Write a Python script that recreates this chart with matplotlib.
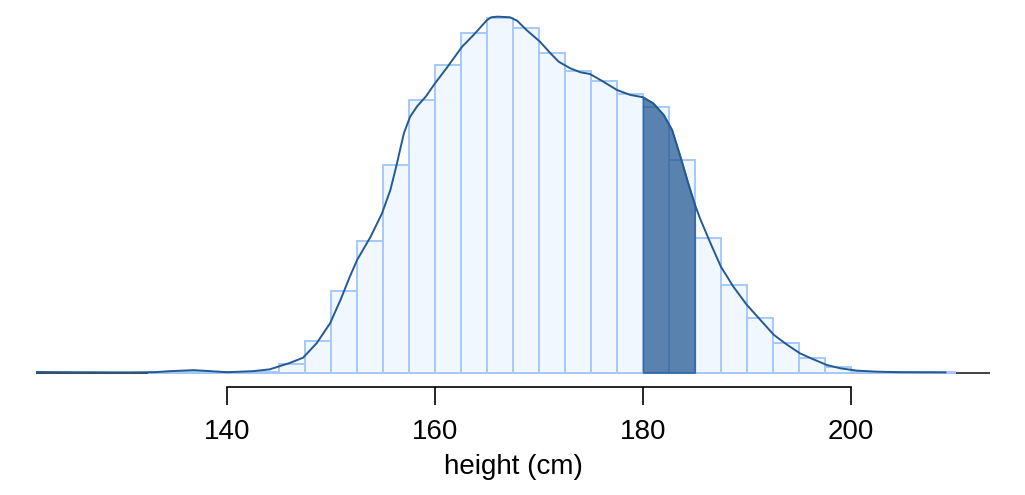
import numpy as np
import matplotlib
matplotlib.use('Agg')
import matplotlib.pyplot as plt

plt.rcParams['font.family'] = ['Liberation Sans', 'DejaVu Sans']

# histogram, bin width 2.5 cm (density)
bin_left = [132.5, 135, 137.5, 140, 142.5, 145, 147.5, 150, 152.5, 155,
            157.5, 160, 162.5, 165, 167.5, 170, 172.5, 175, 177.5, 180,
            182.5, 185, 187.5, 190, 192.5, 195, 197.5, 200, 202.5, 205, 207.5]
bin_density = [0.00005, 0.0001, 0.00005, 0.00003, 0.0001, 0.0009, 0.0031,
               0.0080, 0.0129, 0.0204, 0.0267, 0.0302, 0.0333, 0.0348,
               0.0338, 0.0313, 0.0296, 0.0286, 0.0273, 0.0261, 0.0209,
               0.0132, 0.0086, 0.0054, 0.0029, 0.0014, 0.0006, 0.0001,
               0.00003, 0.00002, 0.00003]
bin_width = 2.5

# smoothed density curve
kde_x = [121.6, 125, 130, 133, 134.5, 136.8, 138.4, 140, 142.5, 144.1,
         144.9, 146.1, 147.3, 148.6, 149.9, 150.9, 151.8, 152.5, 153.8,
         154.9, 155.7, 156.3, 157.0, 157.6, 158.3, 159.1, 160.0, 161.1,
         162.6, 163.7, 165.0, 165.4, 166.0, 167.2, 167.9, 168.8, 170.1,
         171.1, 171.9, 173.0, 174.0, 174.9, 176.2, 177.5, 178.8, 180.0,
         181.0, 182.0, 182.8, 183.6, 184.4, 185.0, 185.5, 186.5, 187.5,
         188.7, 190.0, 191.3, 192.6, 193.9, 195.1, 196.4, 197.7, 199.0,
         200.6, 202.5, 204.8, 209.1]
kde_y = [0.00007, 0.00005, 0.00003, 0.00005, 0.00015, 0.00025, 0.00015,
         0.00005, 0.00015, 0.00033, 0.00059, 0.00098, 0.00147, 0.00288,
         0.00484, 0.00713, 0.00941, 0.01105, 0.01333, 0.01563, 0.01791,
         0.02036, 0.02347, 0.02510, 0.02615, 0.02706, 0.02838, 0.02985,
         0.03196, 0.03311, 0.03458, 0.03485, 0.03491, 0.03485, 0.03451,
         0.03360, 0.03245, 0.03132, 0.03049, 0.02985, 0.02945, 0.02929,
         0.02853, 0.02772, 0.02723, 0.02701, 0.02641, 0.02527, 0.02380,
         0.02118, 0.01840, 0.01647, 0.01510, 0.01269, 0.01039, 0.00843,
         0.00664, 0.00517, 0.00370, 0.00272, 0.00190, 0.00131, 0.00075,
         0.00043, 0.00020, 0.00010, 0.00005, 0.00003]

shade_lo, shade_hi = 180, 185
ticks = [140, 160, 180, 200]

line_col = '#235a92'

fig = plt.figure(figsize=(10.25, 4.95), dpi=100)
ax = fig.add_axes([0.035, 1 - 380 / 495, 0.931, 380 / 495])

ax.axhline(0, color='#222222', lw=1.2, zorder=0.5)
ax.bar(bin_left, bin_density, width=bin_width, align='edge',
       facecolor='#f0f7ff', edgecolor='#a6c9fb', lw=1.4, zorder=1)

kx = np.array(kde_x)
ky = np.array(kde_y)
m = (kx >= shade_lo) & (kx <= shade_hi)
ax.fill_between(kx[m], 0, ky[m], facecolor='#1f5591', alpha=0.72,
                edgecolor='#1f5591', lw=1.0, zorder=2)
ax.plot(kx, ky, color=line_col, lw=1.4, zorder=3)

scale = 9.805e-5
ax.set_xlim(121.6, 213.4)
ax.set_ylim(-7.3 * scale, 372.7 * scale)

for s in ['left', 'right', 'top']:
    ax.spines[s].set_visible(False)
ax.spines['bottom'].set_position(('outward', 4.8))
ax.spines['bottom'].set_bounds(140, 200)
ax.spines['bottom'].set_linewidth(1.2)
ax.set_yticks([])
ax.set_xticks(ticks)
ax.set_xticklabels([str(t) for t in ticks])
ax.tick_params(axis='x', length=13, width=1.2, pad=10.5, labelsize=20)
ax.set_xlabel('height (cm)', fontsize=20, labelpad=6)

fig.savefig('out.png', dpi=100)
